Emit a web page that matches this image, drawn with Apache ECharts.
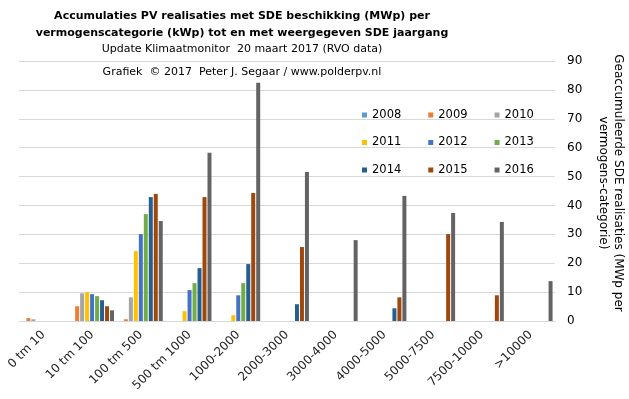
<!DOCTYPE html>
<html>
<head>
<meta charset="utf-8">
<script src="https://cdn.jsdelivr.net/npm/echarts@6/dist/echarts.min.js"></script>
<style>
html, body { margin: 0; padding: 0; background: #fff; }
#chart { width: 629px; height: 399px; }
</style>
</head>
<body>
<div id="chart"></div>
<script>
var categories = ['0 tm 10', '10 tm 100', '100 tm 500', '500 tm 1000', '1000-2000', '2000-3000',
    '3000-4000', '4000-5000', '5000-7500', '7500-10000', '>10000'];
var years = ['2008', '2009', '2010', '2011', '2012', '2013', '2014', '2015', '2016'];
var yTicks = [0, 10, 20, 30, 40, 50, 60, 70, 80, 90];

var v2008 = [0, 0, 0, 0, 0, 0, 0, 0, 0, 0, 0];
var v2009 = [1.0, 5.1, 0.6, 0, 0, 0, 0, 0, 0, 0, 0];
var v2010 = [0.6, 9.6, 8.2, 0, 0, 0, 0, 0, 0, 0, 0];
var v2011 = [0, 10.0, 24.2, 3.4, 2.0, 0, 0, 0, 0, 0, 0];
var v2012 = [0, 9.3, 30.1, 10.7, 8.9, 0, 0, 0, 0, 0, 0];
var v2013 = [0, 8.6, 37.0, 13.1, 13.1, 0, 0, 0, 0, 0, 0];
var v2014 = [0, 7.2, 42.9, 18.3, 19.7, 5.8, 0, 4.4, 0, 0, 0];
var v2015 = [0, 5.1, 44.0, 42.9, 44.3, 25.6, 0, 8.2, 30.1, 8.9, 0];
var v2016 = [0, 3.7, 34.6, 58.2, 82.5, 51.6, 28.0, 43.3, 37.4, 34.3, 13.8];

var values = [v2008, v2009, v2010, v2011, v2012, v2013, v2014, v2015, v2016];
var colors = ['#5B9BD5', '#ED7D31', '#A5A5A5', '#FFC000', '#4472C4', '#70AD47', '#255E91', '#9E480E', '#636363'];

var font = 'DejaVu Sans';

var series = [];
for (var i = 0; i < years.length; i++) {
    series.push({
        name: years[i],
        type: 'bar',
        data: values[i],
        barGap: '25%',
        barCategoryGap: '10%',
        itemStyle: {color: colors[i]},
        animation: false
    });
}

// legend: 3 rijen van 3
var legends = [];
for (var r = 0; r < 3; r++) {
    legends.push({
        data: years.slice(r * 3, r * 3 + 3),
        left: 362,
        top: 109 + r * 27.5,
        padding: 0,
        itemWidth: 5,
        itemHeight: 5,
        itemGap: 27,
        icon: 'rect',
        textStyle: {fontFamily: font, fontSize: 11.5, color: '#000'}
    });
}

var chart = echarts.init(document.getElementById('chart'));
var option = {
    backgroundColor: '#fff',
    title: [{
        text: 'Accumulaties PV realisaties met SDE beschikking (MWp) per\nvermogenscategorie (kWp) tot en met weergegeven SDE jaargang',
        subtext: 'Update Klimaatmonitor  20 maart 2017 (RVO data)',
        left: 242,
        textAlign: 'center',
        top: 8,
        padding: 0,
        itemGap: 2,
        textStyle: {fontFamily: font, fontSize: 11, fontWeight: 'bold', color: '#000', lineHeight: 17},
        subtextStyle: {fontFamily: font, fontSize: 11, color: '#000'}
    }, {
        text: 'Grafiek  \u00a9 2017  Peter J. Segaar / www.polderpv.nl',
        left: 242,
        textAlign: 'center',
        top: 67,
        padding: 0,
        textStyle: {fontFamily: font, fontSize: 11, fontWeight: 'normal', color: '#000'}
    }],
    legend: legends,
    // as-titel rechts, gedraaid
    graphic: [{
        type: 'text',
        x: 611,
        y: 183,
        rotation: -Math.PI / 2,
        style: {
            text: 'Geaccumuleerde SDE realisaties (MWp per\nvermogens-categorie)',
            fontFamily: font,
            fontSize: 12,
            lineHeight: 15,
            fill: '#000',
            align: 'center',
            verticalAlign: 'middle'
        }
    }],
    grid: {left: 19, right: 74, top: 61, bottom: 78, outerBoundsMode: 'none'},
    xAxis: {
        type: 'category',
        data: categories,
        axisLine: {lineStyle: {color: '#d9d9d9'}},
        axisTick: {show: false},
        axisLabel: {rotate: 45, margin: 12, fontFamily: font, fontSize: 12, color: '#262626', interval: 0}
    },
    yAxis: {
        type: 'value',
        position: 'right',
        min: yTicks[0],
        max: yTicks[yTicks.length - 1],
        interval: 10,
        axisLine: {show: false},
        axisTick: {show: false},
        splitLine: {lineStyle: {color: '#d9d9d9'}},
        axisLabel: {margin: 12, fontFamily: font, fontSize: 12, color: '#000'}
    },
    series: series
};
chart.setOption(option);
</script>
</body>
</html>
